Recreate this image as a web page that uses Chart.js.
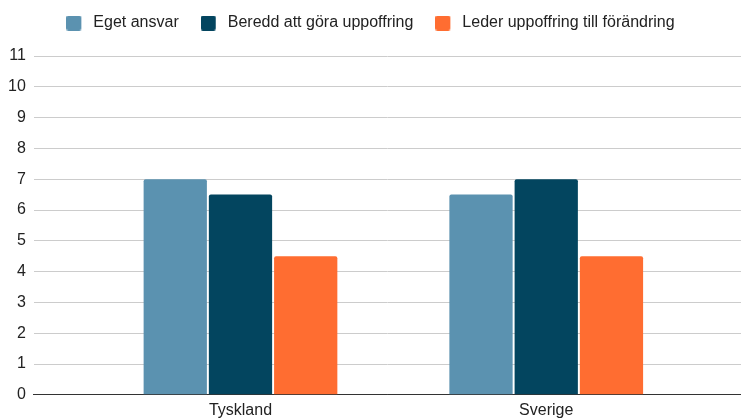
<!DOCTYPE html>
<html>
<head>
<meta charset="utf-8">
<script src="https://cdn.jsdelivr.net/npm/chart.js@4/dist/chart.umd.min.js"></script>
<style>
  body { margin: 0; background: #fff; }
</style>
</head>
<body>
<canvas id="chart" width="741" height="419"></canvas>
<script>
// Categories and series values
const countries = ['Tyskland', 'Sverige'];
const egetAnsvar = [7, 6.5];
const beredd = [6.5, 7];
const leder = [4.5, 4.5];
const seriesNames = ['Eget ansvar', 'Beredd att göra uppoffring', 'Leder uppoffring till förändring'];
const colors = ['#5b92b0', '#03455f', '#ff6d31'];

// linear x so the two groups can sit away from the plot edges like the original
const toPoints = (vals) => vals.map((v, i) => ({ x: i, y: v }));

// legend swatch: 15px square with some empty room on the right, gives a wider gap before the text
function swatch(color) {
  const c = document.createElement('canvas');
  c.width = 19;
  c.height = 15;
  const g = c.getContext('2d');
  g.fillStyle = color;
  g.beginPath();
  g.roundRect(0, 0, 15, 15, 2);
  g.fill();
  return c;
}

// extra room under the legend
const legendGap = {
  id: 'legendGap',
  beforeInit(chart) {
    const fit = chart.legend.fit;
    chart.legend.fit = function () {
      fit.bind(chart.legend)();
      this.height += 15;
    };
  }
};

Chart.defaults.font.family = '"Liberation Sans", Arial, sans-serif';
Chart.defaults.font.size = 16;
Chart.defaults.color = '#222';

new Chart(document.getElementById('chart').getContext('2d'), {
  type: 'bar',
  data: {
    datasets: [egetAnsvar, beredd, leder].map((vals, i) => ({
      label: seriesNames[i],
      data: toPoints(vals),
      backgroundColor: colors[i],
      pointStyle: swatch(colors[i]),
      borderRadius: 2,
      borderSkipped: 'bottom',
      categoryPercentage: 0.64,
      barPercentage: 0.97
    }))
  },
  options: {
    responsive: false,
    animation: false,
    layout: { padding: { left: 0, right: 0, top: -7, bottom: 1 } },
    plugins: {
      legend: {
        position: 'top',
        labels: { usePointStyle: true, pointStyleWidth: 19, boxHeight: 15, padding: 22, color: '#222' }
      },
      tooltip: { enabled: false }
    },
    scales: {
      x: {
        type: 'linear',
        offset: false,
        min: -0.676,
        max: 1.637,
        afterBuildTicks: (scale) => { scale.ticks = countries.map((c, i) => ({ value: i })); },
        ticks: { callback: (v) => countries[v], padding: -2, color: '#222' },
        grid: { display: false },
        border: { color: '#333', width: 1 }
      },
      y: {
        min: 0,
        max: 11,
        ticks: { stepSize: 1, padding: 8, color: '#222' },
        grid: {
          color: (ctx) => ctx.tick.value === 0 ? '#333' : '#cccccc',
          drawTicks: false
        },
        border: { display: false }
      }
    }
  },
  plugins: [legendGap]
});
</script>
</body>
</html>
